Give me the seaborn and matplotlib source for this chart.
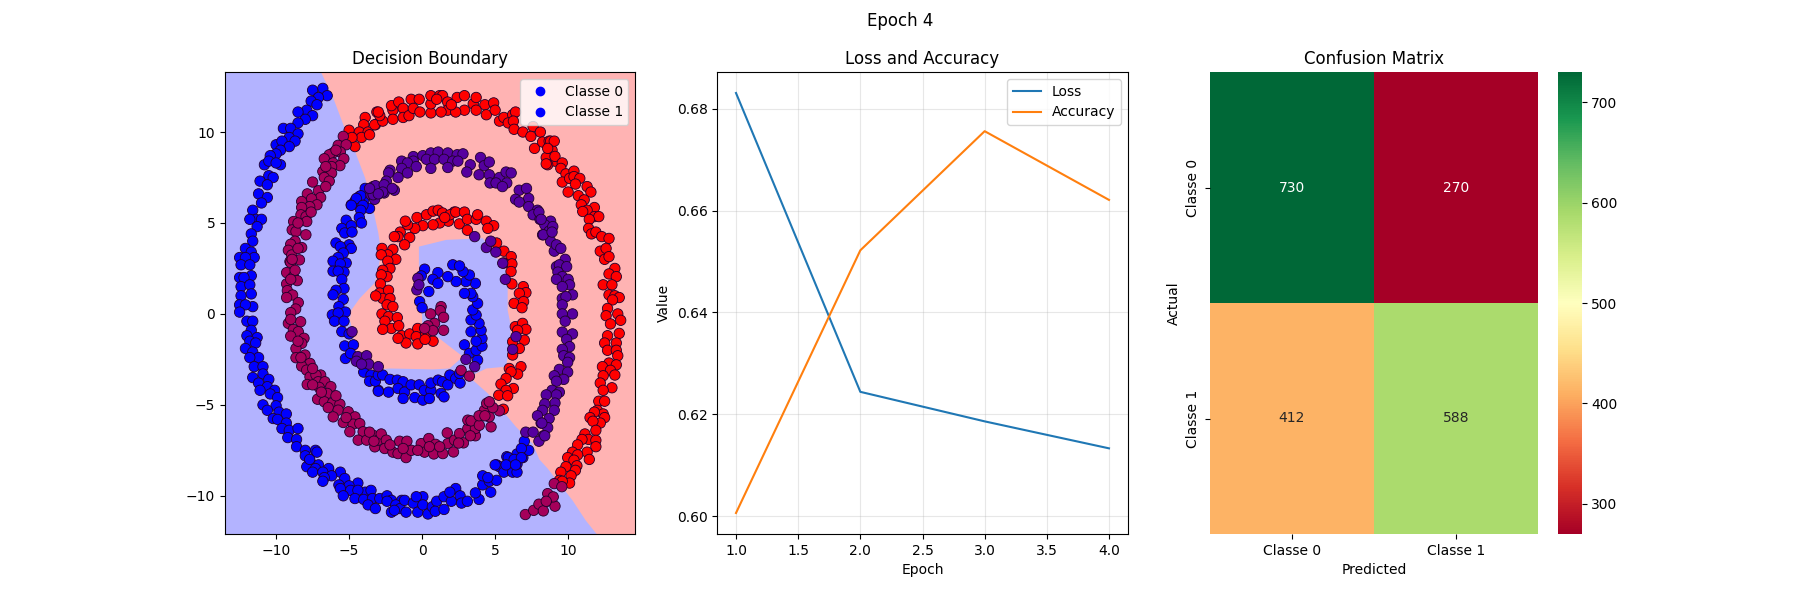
import numpy as np
import pandas as pd
import matplotlib
matplotlib.use('Agg')
import matplotlib.pyplot as plt
from matplotlib.lines import Line2D
import seaborn as sns

# spiral points, one list per colour
blue_points = [
    (-6.8,12.4),(-7.5,12.3),(-6.5,12.0),(-7.1,11.9),(-7.6,11.7),(-7.2,11.5),(-7.9,11.2),(-8.5,11.1),(-7.5,10.9),
    (-8.0,10.7),(-8.5,10.5),(-9.5,10.2),(-9.0,10.2),(-8.5,9.9),(-9.1,9.7),(-10.0,9.3),(-9.6,9.5),(-8.7,9.5),
    (-9.1,9.2),(-9.7,9.0),(-10.0,8.8),(-10.4,8.7),(-9.7,8.2),(-10.8,8.2),(-10.5,8.4),(-10.0,8.3),(-10.5,7.6),
    (-11.1,7.3),(-10.2,7.5),(-10.6,7.1),(-11.2,6.6),(-10.6,6.4),(-11.0,6.1),(-11.6,5.7),(-11.4,5.2),(-11.0,5.2),
    (-11.8,5.2),(-11.3,4.8),(-11.7,4.4),(-11.6,4.0),(-12.1,3.6),(-11.7,3.4),(-12.5,3.1),(-11.5,3.1),(-12.1,3.1),
    (-12.4,2.7),(-11.8,2.7),(-12.5,2.0),(-11.7,2.1),(-12.2,2.0),(-12.4,1.5),(-11.8,1.6),(-12.4,1.0),(-11.7,1.1),
    (-12.5,0.5),(-11.6,0.4),(-12.1,0.5),(-12.5,0.1),(-12.0,-0.4),(-11.6,-0.4),(-11.7,-0.9),(-12.0,-1.2),(-11.3,-1.3),
    (-11.8,-1.5),(-11.4,-1.6),(-12.1,-1.9),(-11.6,-2.1),(-11.2,-2.4),(-11.8,-2.4),(-11.5,-2.9),(-10.9,-2.9),(-10.9,-3.3),
    (-11.6,-3.5),(-10.5,-3.6),(-11.2,-3.8),(-10.6,-4.0),(-11.1,-4.2),(-10.1,-4.2),(-10.4,-4.4),(-9.9,-4.6),(-10.9,-5.0),
    (-10.0,-5.05),(-10.6,-5.3),(-9.8,-5.4),(-9.3,-5.5),(-10.2,-5.75),(-9.9,-5.8),(-9.3,-6.0),(-9.6,-6.3),(-9.1,-6.4),
    (-8.5,-6.3),(-9.2,-6.8),(-8.6,-6.9),(-8.6,-7.3),(-8.0,-7.5),(-7.3,-7.5),(-8.0,-7.8),(-7.7,-8.05),(-7.9,-8.4),
    (-7.1,-8.3),(-7.3,-8.5),(-6.4,-8.6),(-7.2,-7.6),(-7.7,-8.0),(-7.5,-8.7),(-6.4,-8.5),(-6.8,-8.7),(-5.6,-8.7),
    (-6.2,-8.9),(-6.7,-9.0),(-6.8,-9.2),(-5.3,-9.05),(-5.7,-9.4),(-4.4,-9.3),(-5.0,-9.45),(-5.6,-9.6),(-4.9,-9.7),
    (-3.9,-9.8),(-4.4,-9.7),(-3.5,-9.7),(-5.4,-10.0),(-4.6,-10.15),(-4.0,-10.2),(-3.4,-10.15),(-2.9,-10.15),(-3.7,-10.5),
    (-3.2,-10.7),(-2.4,-10.0),(-2.1,-10.25),(-2.4,-10.3),(-1.4,-10.25),(-1.8,-10.5),(-1.5,-10.7),(-2.1,-10.9),(-1.9,-10.8),
    (-1.2,-10.25),(-1.1,-10.9),(-0.6,-10.4),(-0.3,-10.9),(0.05,-10.05),(-0.4,-10.05),(0.05,-10.5),(0.4,-11.0),(0.7,-10.6),
    (1.0,-10.3),(0.9,-10.85),(1.5,-10.75),(1.5,-10.05),(2.0,-10.3),(2.3,-9.6),(1.9,-9.8),(2.6,-10.0),(2.7,-10.4),
    (3.1,-10.3),(3.9,-10.2),(3.65,-9.84),(4.15,-9.4),(4.15,-8.9),(4.6,-9.2),(4.7,-9.8),(5.1,-9.15),(4.5,-9.0),
    (5.1,-8.3),(5.3,-8.4),(5.6,-8.7),(6.2,-8.7),(6.5,-8.7),(5.8,-7.85),(5.9,-8.2),(6.5,-8.26),(6.9,-7.9),
    (6.5,-7.7),(7.3,-7.5),(7.0,-7.0),(6.8,-7.4),(5.9,-7.9),(6.3,-8.0),(6.8,-7.9),(5.0,-8.3),(5.75,-8.3),(6.4,-8.3),
    # second blue arm
    (-3.9,6.9),(-4.3,6.45),(-4.6,6.2),(-4.0,6.2),(-4.85,6.0),(-3.6,5.8),(-4.15,6.0),(-4.2,6.5),(-4.5,6.35),
    (-4.85,5.97),(-4.05,5.97),(-4.2,5.7),(-4.3,5.3),(-5.2,5.15),(-4.15,5.0),(-5.5,4.7),(-4.85,4.85),(-5.3,4.45),
    (-4.8,4.5),(-5.9,3.9),(-5.0,3.8),(-5.6,3.7),(-4.85,3.6),(-5.4,3.35),(-5.75,3.1),(-6.1,2.9),(-5.2,2.8),
    (-5.6,2.75),(-6.1,2.35),(-5.35,2.3),(-5.75,2.35),(-5.5,1.9),(-5.35,1.4),(-5.9,1.3),(-6.1,1.05),(-5.4,0.8),
    (-5.7,0.4),(-5.25,0.1),(-6.15,-0.05),(-5.75,0.05),(-6.0,-0.4),(-5.35,-0.4),(-5.5,-0.97),(-5.0,-1.1),(-5.3,-1.76),
    (-4.7,-1.7),(-5.25,-2.45),(-4.9,-2.17),
    # inner blue arc
    (-4.0,-3.2),(-3.5,-3.36),(-3.6,-3.7),(-3.0,-4.2),(-3.2,-3.7),(-3.0,-3.36),(-2.7,-3.36),(-3.0,-4.25),(-2.3,-4.3),
    (-2.2,-3.6),(-1.7,-3.64),(-1.3,-3.73),(-1.65,-4.1),(-1.2,-4.3),(-1.3,-4.65),(-0.75,-3.9),(-0.5,-4.6),(0.05,-4.74),
    (-0.2,-3.9),(0.15,-4.2),(0.6,-4.2),(0.5,-4.65),(1.3,-4.37),(1.5,-4.56),(0.6,-3.8),(1.1,-3.64),(1.4,-3.73),
    (1.76,-3.9),(1.9,-3.36),(2.3,-3.55),(2.6,-3.8),(2.56,-3.27),(2.9,-1.7),(3.24,-2.17),(3.8,-2.54),(3.7,-2.0),
    (4.1,-1.77),(4.1,-1.35),(3.7,-1.5),(3.35,-0.98),(4.04,-0.9),(3.9,-0.52),(3.35,-0.33),(3.7,-0.06),(3.47,0.22),
    (3.8,0.58),(3.47,0.95),(3.35,1.13),(2.9,1.13),(3.65,1.68),(3.0,1.78),(2.33,1.78),(3.24,2.14),(2.8,2.33),
    (2.1,2.7),(2.56,2.64),(1.76,2.05),(1.08,2.27),(0.74,1.9),(0.17,2.46),(-0.06,2.09),(1.08,1.68),(0.46,1.23),
    (-0.17,0.68),(0.0,0.34),
]
red_points = [
    # outer red arm
    (-5.0,10.1),(-4.6,9.2),(-3.9,10.8),(-4.0,10.4),(-4.3,10.0),(-3.7,10.0),(-3.1,11.1),(-3.2,10.4),(-4.15,9.7),(-4.8,9.7),
    (-3.25,10.4),(-2.7,10.6),(-2.9,10.9),(-3.0,11.1),(-3.6,9.85),(-2.0,11.2),(-2.0,10.7),(-2.1,11.45),(-1.6,11.65),
    (-1.3,11.3),(-1.3,10.8),(-0.9,10.9),(-0.75,11.8),(-0.2,11.8),(-0.6,11.3),(-0.15,11.1),(0.6,11.05),(0.6,11.55),
    (0.6,12.0),(1.2,12.0),(1.4,12.0),(1.0,11.8),(1.75,11.65),(1.75,11.2),(1.3,11.1),(2.4,11.9),(2.9,12.0),
    (2.9,11.2),(2.3,11.1),(2.0,11.5),(3.5,11.55),(3.7,11.9),(4.3,11.5),(3.7,11.2),(4.4,10.95),(4.9,11.6),
    (5.0,11.2),(5.3,10.6),(5.6,10.8),(6.2,10.95),(6.4,11.1),(5.9,10.5),(6.25,10.6),(6.3,10.15),(6.9,10.0),
    (7.6,10.3),(7.45,9.76),(8.1,10.0),(7.7,9.1),(8.25,9.45),(8.7,9.5),(8.9,9.0),(8.5,8.6),(9.1,8.4),(8.6,8.2),
    (8.8,9.5),(9.05,9.5),(8.6,9.1),(9.1,8.66),(8.5,8.25),(9.6,8.3),(9.5,8.0),(9.85,7.7),(10.4,7.85),
    (9.6,7.25),(10.1,7.45),(10.4,7.55),(10.8,7.45),(10.5,7.14),(10.0,6.7),(10.7,6.5),(11.3,7.0),(11.56,6.7),
    (11.1,6.27),(10.9,6.0),(11.8,5.85),(11.3,5.7),(11.0,5.63),(11.8,5.35),(12.1,5.35),(11.45,5.2),(11.4,4.7),
    (11.6,4.4),(11.9,4.5),(12.3,4.25),(12.8,4.15),(12.2,3.45),(12.6,3.6),(12.5,3.0),(12.8,3.15),(13.2,2.5),
    (12.8,2.2),(13.3,2.05),(12.4,1.6),(13.0,1.6),(12.8,1.05),(13.2,1.0),(13.5,0.9),(13.04,0.77),(12.7,0.3),
    (13.4,0.0),(12.6,-0.1),(13.6,-0.35),(12.9,-0.55),(13.5,-1.07),(12.7,-1.2),(12.5,-1.6),(13.3,-1.6),(12.7,-2.0),
    (13.3,-2.0),(13.4,-2.3),(12.8,-2.7),(13.3,-2.8),(12.35,-2.9),(12.9,-3.1),(13.2,-3.36),(12.4,-3.4),(12.2,-3.8),
    (13.0,-4.06),(12.4,-4.2),(12.1,-4.8),(12.5,-4.8),(12.0,-5.3),(12.4,-5.5),(11.8,-5.4),(12.5,-5.7),(11.5,-5.7),
    (12.2,-6.0),(11.7,-5.9),(11.9,-6.4),(11.15,-6.6),(11.4,-6.9),(11.9,-6.95),(10.95,-6.9),(10.65,-7.2),(11.9,-7.3),
    (11.3,-7.6),(11.45,-8.0),(10.3,-7.6),(9.97,-7.9),(10.65,-7.75),(10.4,-8.04),(10.6,-8.35),(9.85,-8.4),(10.5,-8.6),
    (9.5,-8.7),(10.2,-8.9),(9.4,-9.15),(10.1,-9.3),(9.6,-9.2),
    # inner red ring
    (-0.35,5.3),(0.3,5.45),(0.75,5.65),(1.1,5.7),(1.4,5.55),(2.2,5.6),(1.8,5.1),(1.2,5.0),(0.75,4.9),(0.05,4.85),
    (-0.5,4.7),(-1.0,4.9),(-1.5,4.5),(-0.85,4.2),(-1.65,4.25),(-1.9,4.25),(-1.2,3.8),(-2.0,3.55),(-2.75,3.6),
    (-2.35,3.25),(-2.8,3.25),(-1.8,3.0),(-2.35,2.9),(-2.2,2.5),(-2.7,2.4),(-2.4,2.05),(-2.8,2.15),(-2.85,1.65),
    (-2.9,1.15),(-2.3,1.3),(-2.7,0.85),(-2.2,0.85),(-2.4,0.5),(-2.0,0.4),(-2.75,0.0),(-2.3,-0.15),(-1.7,-0.2),
    (-2.55,-0.4),(-2.1,-0.8),(-1.6,-0.65),(-2.7,-0.85),(-1.4,-1.2),(-0.85,-1.1),(-1.1,-1.6),(-0.3,-0.8),(-0.4,-1.25),
    (0.25,-1.1),(-0.3,-1.65),(0.75,-1.5),(0.2,-1.4),(-1.65,-1.34),(-3.18,0.99),
    (-1.15,5.1),(1.9,5.45),(1.55,5.3),(2.3,5.6),(2.9,5.6),(2.55,4.95),(3.1,5.2),(3.7,5.2),(3.8,5.45),(3.1,4.6),
    (4.4,5.1),(4.9,4.85),(4.5,4.7),(5.1,3.9),(5.6,3.45),(6.1,3.15),(5.6,2.8),
    (6.15,2.75),(6.09,2.33),(6.15,1.65),(6.93,1.5),(7.11,1.17),(6.66,1.13),(6.3,0.58),(6.95,0.68),(6.84,0.34),
    (6.38,-0.7),(6.88,-0.52),(7.11,-0.85),(6.54,-0.9),(7.0,-1.44),(6.66,-1.9),(6.2,-1.53),(6.2,-2.26),(5.97,-3.0),
    (6.77,-2.9),(6.54,-3.31),(6.09,-3.18),(5.75,-3.55),(5.4,-3.86),(6.25,-4.1),(5.75,-4.2),(5.25,-4.47),(5.86,-4.5),
    (5.56,-5.24),
]
crimson_points = [
    (-5.4,9.76),(-5.75,9.27),(-5.2,9.3),(-5.6,8.9),(-6.1,8.85),(-5.36,8.53),(-6.36,8.75),(-6.7,8.53),(-6.1,8.3),
    (-5.63,8.15),(-6.2,8.1),(-6.8,7.83),(-6.2,7.74),(-6.7,7.5),(-6.36,7.3),(-7.5,7.25),(-7.1,6.77),(-7.86,6.6),
    (-6.95,6.4),(-7.57,6.33),(-8.25,6.18),(-7.2,6.0),(-7.7,5.9),(-8.25,5.85),(-8.3,5.45),(-7.95,5.35),(-8.8,5.08),
    (-7.9,5.08),(-8.9,4.62),(-8.64,4.53),(-7.96,4.35),(-8.7,4.0),(-9.0,3.83),(-8.25,3.65),(-9.16,3.5),(-8.93,3.24),
    (-8.4,2.97),(-9.05,2.88),(-9.0,2.82),(-9.28,2.27),(-8.82,2.05),(-8.55,1.83),(-9.28,1.65),(-9.23,1.28),(-8.87,1.04),
    (-9.28,0.9),(-8.48,0.62),(-8.66,0.27),(-9.0,0.07),(-8.32,-0.43),(-9.16,-0.52),(-8.82,-0.85),(-8.48,-0.98),(-9.0,-1.22),
    (-8.09,-1.34),(-8.25,-1.62),(-8.64,-1.9),(-8.02,-2.26),(-8.64,-2.41),(-7.68,-2.72),(-8.25,-2.87),(-7.91,-3.09),(-7.68,-3.46),
    (-6.95,-3.36),(-7.27,-3.36),(-7.87,-3.88),(-7.12,-3.73),(-6.66,-3.73),(-7.05,-4.04),(-6.25,-4.0),(-6.5,-4.37),(-7.16,-4.69),
    (-6.7,-4.83),(-6.13,-4.89),(-5.63,-4.96),(-6.43,-5.15),(-5.75,-5.29),(-6.09,-5.66),(-5.06,-5.38),(-5.4,-5.97),(-4.6,-5.66),
    (-4.72,-6.06),(-4.27,-6.03),(-4.95,-6.48),(-4.04,-6.48),(-4.38,-6.94),(-3.36,-6.67),(-3.8,-6.94),(-3.24,-7.31),(-3.0,-6.94),
    (-2.8,-6.6),(-2.45,-6.94),(-2.56,-7.4),(-2.0,-7.6),(-1.54,-7.0),(-1.04,-7.0),(-1.65,-7.68),(-1.1,-7.9),(-0.74,-7.5),
    (-0.06,-7.13),(0.46,-6.85),(0.17,-7.6),(0.92,-7.17),(0.8,-7.7),(1.42,-7.68),(1.72,-6.54),(1.76,-7.13),(2.22,-6.94),
    (2.15,-7.59),(2.56,-6.58),(2.83,-7.09),(3.13,-6.3),(3.13,-5.84),(3.65,-6.7),(3.65,-6.3),(3.35,-5.88),(3.92,-6.12),
    (4.27,-5.3),(4.72,-6.21),(4.6,-5.66),(4.42,-4.92),(5.29,-5.33),(4.84,-5.15),(4.6,-4.83),
    (7.07,-11.03),(7.64,-10.8),(8.0,-10.46),(8.3,-10.83),(8.55,-10.3),(9.1,-10.57),(8.6,-9.88),(8.98,-10.06),(9.05,-9.33),
    (9.57,-9.5),(8.5,-10.3),
    # gaps in the band, second pass
    (-8.9,3.0),(-8.7,2.4),(-9.0,1.9),(-9.0,-0.3),(-8.5,-1.5),(-8.3,-2.4),(-7.5,-3.0),(-7.5,-3.9),(-6.9,-4.3),
    (-5.9,-4.5),(-5.2,-5.7),(-3.6,-6.5),(-3.3,-7.0),(-2.2,-7.2),(-1.3,-7.4),(-0.3,-7.5),(0.5,-7.3),(1.2,-7.3),
    (2.5,-7.1),(3.3,-6.7),(3.9,-5.6),(4.3,-5.6),(-7.6,5.6),(-8.5,5.0),(-8.5,3.6),(-6.6,7.0),(-6.6,8.1),(-5.9,9.0),
    # centre of the spiral
    (1.3,0.4),(1.24,0.18),(0.58,0.0),(1.47,-0.19),(0.85,-0.52),(0.4,-0.65),(0.74,-0.92),(1.47,-0.9),(0.17,-0.8),
    (2.67,-3.1),(3.24,-3.42),
]
purple_points = [
    (-3.35,7.0),(-3.1,6.8),(-3.5,6.55),(-3.35,6.6),(-3.0,6.6),(-3.25,6.3),(-2.6,6.65),(-1.9,6.8),
    (-1.4,8.4),(-0.6,8.65),(0.05,8.7),(0.6,8.85),(1.1,8.9),(1.76,8.85),(2.4,8.75),(2.8,8.8),(0.3,8.5),
    (0.85,8.5),(1.5,8.5),(2.1,8.4),(2.45,8.4),(-0.6,8.4),(-1.0,8.3),(-0.4,8.1),(0.6,8.0),(1.76,8.05),
    (-1.4,8.0),(-1.0,7.75),(-2.2,7.9),(-2.3,7.75),(-1.65,7.5),(-2.45,7.3),(-3.2,7.05),(-2.6,7.1),(-2.05,6.9),
    (-2.7,6.7),(-3.35,6.55),(-3.0,6.6),(-3.6,6.9),(3.3,8.2),(3.06,7.8),(4.0,8.6),(4.25,8.15),(4.6,8.35),
    (3.9,7.65),(4.6,7.65),(5.3,7.5),(5.75,7.8),(6.1,7.75),(4.65,7.2),(5.06,7.2),(5.8,7.2),(5.5,7.0),
    (6.65,6.8),(7.15,6.9),(6.4,6.3),(7.3,6.35),(6.65,6.15),(7.3,5.9),(7.9,5.7),(7.6,5.45),(8.07,5.2),
    (8.8,5.1),(8.4,4.9),(8.7,4.55),(8.25,4.35),(8.8,4.0),(9.05,3.45),(8.0,5.6),(8.15,5.2),(8.95,4.8),
    (8.3,4.35),(8.9,4.5),(9.2,3.8),(9.5,3.6),(9.8,3.0),(9.2,2.6),(9.4,2.7),(9.9,2.6),(9.3,2.3),
    (9.6,2.05),(9.2,1.9),(10.0,1.9),(10.1,1.6),(9.6,1.5),(10.3,1.05),(9.6,0.85),(9.85,0.95),(9.6,0.5),
    (10.3,0.0),(9.6,0.0),(9.8,-0.4),(10.3,-1.1),(9.6,-1.0),(9.9,-1.4),(10.1,-1.8),(9.6,-1.95),(9.7,-2.3),
    (10.1,-2.4),(9.97,-2.66),(9.4,-3.05),(9.97,-3.2),(9.05,-3.4),(9.7,-3.6),(9.2,-3.7),(8.9,-4.2),(9.4,-4.3),
    (8.5,-4.45),(9.2,-4.45),(9.1,-4.9),(8.4,-4.95),(9.05,-5.3),(8.25,-5.3),(8.7,-5.75),(8.15,-6.0),(8.6,-6.25),
    (8.3,-6.7),(8.0,-7.0),(7.9,-5.6),(8.2,-6.0),(7.1,-6.5),(7.6,-6.5),(8.4,-6.7),
    # small runs on the edges of the boundary
    (-4.8,-0.98),(-4.4,-2.35),(-3.8,-2.3),(-4.5,-2.6),(-3.65,-2.76),(-4.15,-2.76),(-3.0,-2.9),(3.0,-2.5),(3.6,-2.9),
    (3.6,4.25),(4.4,3.65),(4.7,4.0),(5.05,3.4),(5.52,2.79),(5.7,1.9),(6.43,-1.25),(6.2,-1.95),(-0.29,1.96),(-0.36,1.32),(-0.22,1.6),
]
region_blue = [
    (-13.5,13.3),(-6.93,13.3),(-6.1,11.9),(-5.3,10.2),(-4.6,8.94),(-3.9,7.47),(-3.4,5.9),(-3.0,4.45),(-2.8,3.34),
    (-3.1,2.15),(-3.25,1.7),(-4.27,0.86),(-4.84,0.22),(-4.95,-0.33),(-4.7,-1.07),(-4.7,-2.54),(-4.27,-2.9),(-3.6,-3.09),
    (-2.2,-3.0),(0.74,-3.05),(1.87,-3.0),(2.8,-2.35),(1.76,-1.71),(0.74,-1.07),(0.0,-0.52),(0.0,-0.15),(-0.22,2.7),
    (-0.22,3.7),(1.65,4.07),(4.15,4.16),(4.4,3.9),(5.06,3.06),(5.52,2.97),(5.86,1.87),(5.86,0.2),(6.0,-0.35),
    (6.1,-1.44),(5.86,-2.35),(5.75,-2.9),(4.4,-3.0),(3.47,-3.36),(3.47,-3.64),(4.5,-4.37),(5.86,-5.66),(6.43,-6.21),
    (7.57,-7.13),(8.03,-8.0),(8.6,-8.5),(9.4,-9.33),(10.3,-10.25),(11.2,-11.35),(11.95,-12.1),(-13.5,-12.1),
]

epochs = [1, 2, 3, 4]
loss_values = [0.6831, 0.6244, 0.6186, 0.6133]
accuracy_values = [0.6006, 0.6522, 0.6756, 0.6621]

class_labels = ['Classe 0', 'Classe 1']
confusion = [[730, 270], [412, 588]]

palette = {'blue': '#0000ff', 'red': '#ff0000', 'crimson': '#a5005a', 'purple': '#55009f'}

frames = []
for name, pts in [('blue', blue_points), ('red', red_points), ('crimson', crimson_points), ('purple', purple_points)]:
    df = pd.DataFrame(pts, columns=['x', 'y'])
    df['group'] = name
    frames.append(df)
points = pd.concat(frames, ignore_index=True)

fig, axes = plt.subplots(1, 3, figsize=(18, 6))
fig.suptitle('Epoch 4')

# 1. decision boundary
ax = axes[0]
ax.set_facecolor('#ffb3b3')
region = np.array(region_blue)
ax.fill(region[:, 0], region[:, 1], color='#b3b3ff', linewidth=0, zorder=0)
sns.scatterplot(data=points, x='x', y='y', hue='group', palette=palette, s=56,
                edgecolor='#20002a', linewidth=0.6, legend=False, ax=ax, zorder=2)
ax.set_xlim(-13.5, 14.6)
ax.set_ylim(-12.1, 13.3)
ax.set_xlabel('')
ax.set_ylabel('')
ax.set_title('Decision Boundary')
handles = [Line2D([], [], linestyle='none', marker='o', color='#0000ff', label=l) for l in class_labels]
ax.legend(handles=handles, loc='upper right')

# 2. loss / accuracy
ax = axes[1]
sns.lineplot(x=epochs, y=loss_values, label='Loss', ax=ax)
sns.lineplot(x=epochs, y=accuracy_values, label='Accuracy', ax=ax)
ax.set_title('Loss and Accuracy')
ax.set_xlabel('Epoch')
ax.set_ylabel('Value')
ax.grid(True, alpha=0.3)

# 3. confusion matrix
ax = axes[2]
sns.heatmap(confusion, annot=True, fmt='d', cmap='RdYlGn',
            xticklabels=class_labels, yticklabels=class_labels, ax=ax)
ax.set_title('Confusion Matrix')
ax.set_xlabel('Predicted')
ax.set_ylabel('Actual')

plt.savefig('out.png', dpi=100)
